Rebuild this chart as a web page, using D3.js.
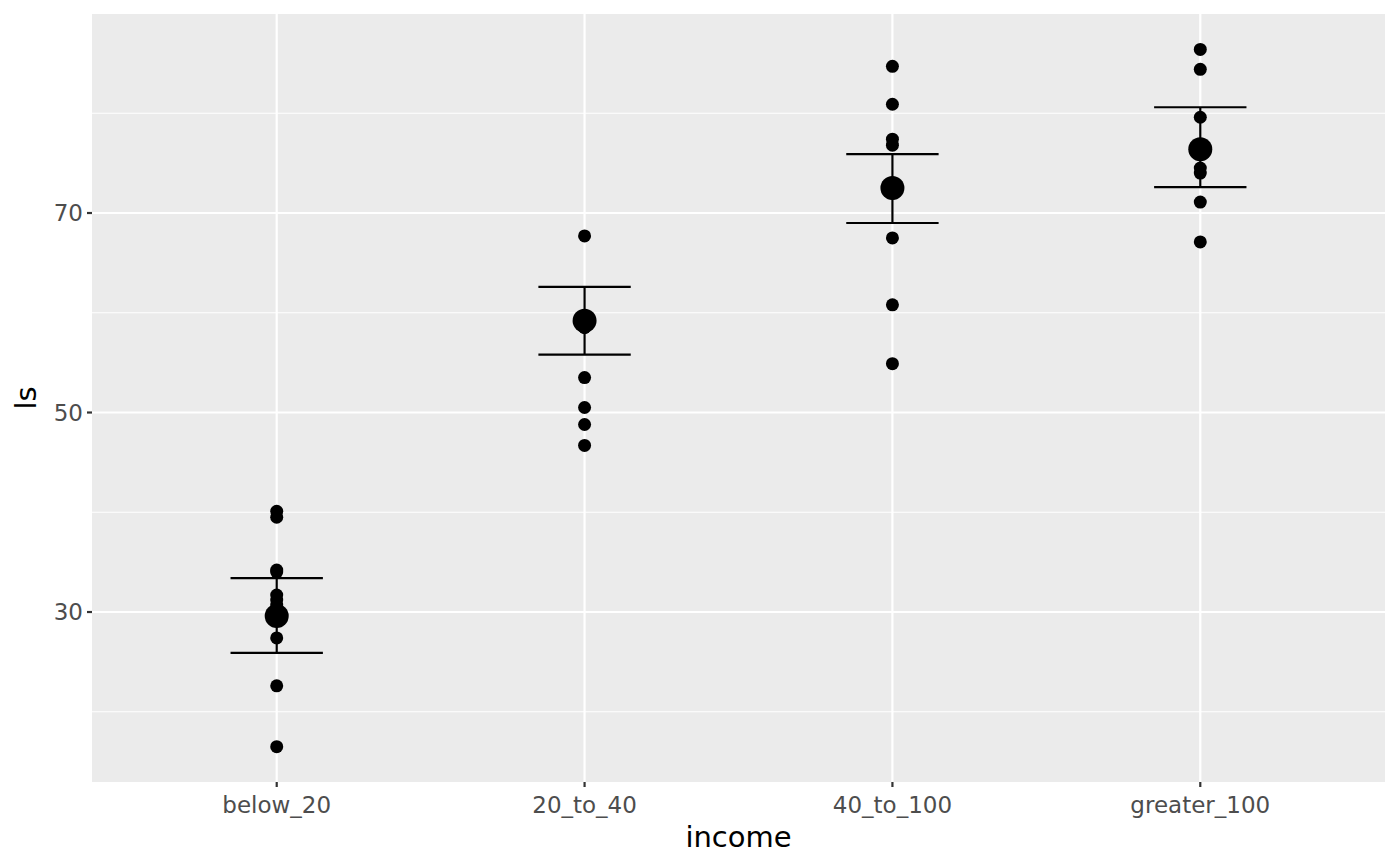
<!DOCTYPE html>
<html><head><meta charset="utf-8">
<script src="https://cdn.jsdelivr.net/npm/d3@7"></script>
<style>body{margin:0;background:#fff}text{font-family:"DejaVu Sans",sans-serif}</style>
</head><body><svg id="c" width="1400" height="866"></svg>
<script>
const categories=["below_20","20_to_40","40_to_100","greater_100"];
const points=[
 [40.1,39.5,34.2,34.0,31.7,31.2,30.7,30.2,27.4,22.6,16.5],
 [67.7,58.5,53.5,50.5,48.8,46.7],
 [84.7,80.9,77.4,76.8,72.0,67.5,60.8,54.9],
 [86.4,84.4,79.6,74.5,74.0,71.1,67.1]
];
const means=[29.6,59.2,72.5,76.4];
const lower=[25.9,55.8,69.0,72.6];
const upper=[33.4,62.6,75.9,80.6];
const yTicks=[30,50,70];
const yMinor=[20,40,60,80];

const L=92,R=1385,T=14,B=782;
const svg=d3.select("#c");
const x=d3.scalePoint().domain(categories).range([L,R]).padding(0.6);
const y=d3.scaleLinear().domain([12.96,89.95]).range([B,T]);
const step=x.step();
svg.append("rect").attr("x",L).attr("y",T).attr("width",R-L).attr("height",B-T).attr("fill","#EBEBEB");
const g=svg.append("g");
yMinor.forEach(v=>g.append("line").attr("x1",L).attr("x2",R).attr("y1",y(v)).attr("y2",y(v)).attr("stroke","#fff").attr("stroke-width",1.1));
yTicks.forEach(v=>g.append("line").attr("x1",L).attr("x2",R).attr("y1",y(v)).attr("y2",y(v)).attr("stroke","#fff").attr("stroke-width",2.2));
categories.forEach(c=>g.append("line").attr("x1",x(c)).attr("x2",x(c)).attr("y1",T).attr("y2",B).attr("stroke","#fff").attr("stroke-width",2.2));
categories.forEach((c,i)=>{
  points[i].forEach(v=>svg.append("circle").attr("cx",x(c)).attr("cy",y(v)).attr("r",6.5).attr("fill","#000"));
  const hw=step*0.15;
  svg.append("line").attr("x1",x(c)).attr("x2",x(c)).attr("y1",y(lower[i])).attr("y2",y(upper[i])).attr("stroke","#000").attr("stroke-width",2.2);
  [lower[i],upper[i]].forEach(v=>svg.append("line").attr("x1",x(c)-hw).attr("x2",x(c)+hw).attr("y1",y(v)).attr("y2",y(v)).attr("stroke","#000").attr("stroke-width",2.2));
  svg.append("circle").attr("cx",x(c)).attr("cy",y(means[i])).attr("r",12).attr("fill","#000");
});
yTicks.forEach(v=>{
  svg.append("line").attr("x1",L-5).attr("x2",L).attr("y1",y(v)).attr("y2",y(v)).attr("stroke","#333").attr("stroke-width",2.2);
  svg.append("text").attr("x",L-9).attr("y",y(v)).attr("dy","0.35em").attr("text-anchor","end").attr("font-size",23).attr("fill","#4D4D4D").text(v);
});
categories.forEach(c=>{
  svg.append("line").attr("x1",x(c)).attr("x2",x(c)).attr("y1",B).attr("y2",B+5).attr("stroke","#333").attr("stroke-width",2.2);
  svg.append("text").attr("x",x(c)).attr("y",B+31).attr("text-anchor","middle").attr("font-size",23).attr("fill","#4D4D4D").text(c);
});
svg.append("text").attr("x",(L+R)/2).attr("y",847).attr("text-anchor","middle").attr("font-size",29).text("income");
svg.append("text").attr("transform",`translate(36,${(T+B)/2}) rotate(-90)`).attr("text-anchor","middle").attr("font-size",29).text("ls");
</script></body></html>
